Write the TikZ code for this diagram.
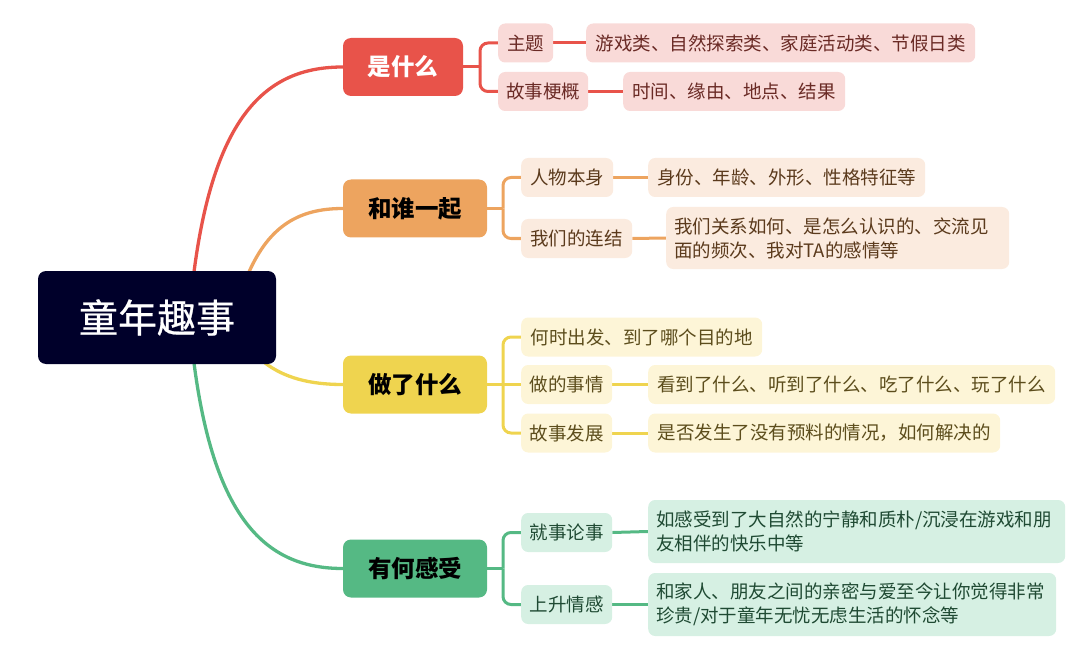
\documentclass[tikz,border=0pt]{standalone}
\usepackage{fontspec}
\setmainfont{Noto Sans CJK SC}
\newfontfamily\rootfont{Noto Sans CJK SC}[FakeBold=0.6]
\usetikzlibrary{backgrounds}
\definecolor{rootc}{HTML}{00002A}
\definecolor{redc}{HTML}{E8534A}
\definecolor{redl}{HTML}{F9DAD8}
\definecolor{redt}{HTML}{6A2A25}
\definecolor{orac}{HTML}{EDA45F}
\definecolor{oral}{HTML}{FBEBDF}
\definecolor{orat}{HTML}{5B3A1C}
\definecolor{yelc}{HTML}{EFD44F}
\definecolor{yell}{HTML}{FDF5D7}
\definecolor{yelt}{HTML}{5C4D1C}
\definecolor{grnc}{HTML}{55B984}
\definecolor{grnl}{HTML}{D6F0E3}
\definecolor{grnt}{HTML}{1F4A33}
\tikzset{
  rootbox/.style={fill=rootc, rounded corners=8pt, text=white, inner sep=0pt,
    minimum width=238pt, minimum height=93pt, font=\rootfont\fontsize{39}{45}\selectfont},
  topicbox/.style={fill=#1, rounded corners=8pt, inner sep=0pt, minimum height=58pt,
    font=\fontsize{23.5}{28}\selectfont\bfseries},
  subbox/.style={fill=#1, rounded corners=7pt, inner xsep=0pt, inner ysep=0pt,
    minimum height=39pt, anchor=west, font=\fontsize{18.5}{24}\selectfont},
  multibox/.style={subbox=#1, inner xsep=8pt},
  wire/.style={draw=#1, line width=3pt},
  bend/.style={draw=#1, line width=3pt, rounded corners=8pt},
  curvewire/.style={draw=#1, line width=3.3pt}
}
\begin{document}
\begin{tikzpicture}[x=1pt,y=-1pt]
\useasboundingbox (0,0) rectangle (1080,650);
% root and topics
\node[rootbox] (root) at (157,317.5) {童年趣事};
\node[topicbox=redc, text=white, minimum width=120pt] (t1) at (403,67) {是什么};
\node[topicbox=orac, text=black, minimum width=144pt] (t2) at (415,208.5) {和谁一起};
\node[topicbox=yelc, text=black, minimum width=144pt] (t3) at (415,384.5) {做了什么};
\node[topicbox=grnc, text=black, minimum width=144pt] (t4) at (415,568.5) {有何感受};
% group 1
\node[subbox=redl, text=redt, minimum width=55pt] (a1) at (498,43) {主题};
\node[subbox=redl, text=redt, minimum width=389pt] (a1d) at (586,43) {游戏类、自然探索类、家庭活动类、节假日类};
\node[subbox=redl, text=redt, minimum width=90pt] (a2) at (498,91.5) {故事梗概};
\node[subbox=redl, text=redt, minimum width=222pt] (a2d) at (623,91.5) {时间、缘由、地点、结果};
% group 2
\node[subbox=oral, text=orat, minimum width=92pt] (b1) at (521,177.5) {人物本身};
\node[subbox=oral, text=orat, minimum width=277pt] (b1d) at (648,177.5) {身份、年龄、外形、性格特征等};
\node[subbox=oral, text=orat, minimum width=111pt] (b2) at (521,238.5) {我们的连结};
\node[multibox=oral, text=orat, minimum height=62pt, text width=327pt, align=left] (b2d) at (666,238)
  {我们关系如何、是怎么认识的、交流见\\面的频次、我对TA的感情等};
% group 3
\node[subbox=yell, text=yelt, minimum width=241pt] (c1) at (521,337) {何时出发、到了哪个目的地};
\node[subbox=yell, text=yelt, minimum width=91pt] (c2) at (521,384.5) {做的事情};
\node[subbox=yell, text=yelt, minimum width=407pt] (c2d) at (648,384.5) {看到了什么、听到了什么、吃了什么、玩了什么};
\node[subbox=yell, text=yelt, minimum width=91pt] (c3) at (521,433) {故事发展};
\node[subbox=yell, text=yelt, minimum width=352pt] (c3d) at (648,433) {是否发生了没有预料的情况，如何解决的};
% group 4
\node[subbox=grnl, text=grnt, minimum width=91pt] (d1) at (521,532.5) {就事论事};
\node[multibox=grnl, text=grnt, minimum height=63pt, text width=401pt, align=left] (d1d) at (648,531.5)
  {如感受到了大自然的宁静和质朴/沉浸在游戏和朋\\友相伴的快乐中等};
\node[subbox=grnl, text=grnt, minimum width=91pt] (d2) at (521,604.5) {上升情感};
\node[multibox=grnl, text=grnt, minimum height=63pt, text width=392pt, align=left] (d2d) at (648,604.5)
  {和家人、朋友之间的亲密与爱至今让你觉得非常\\珍贵/对于童年无忧无虑生活的怀念等};
% junction points
\coordinate (j1) at (480,67);
\coordinate (j2) at (503,208.5);
\coordinate (j3) at (503,384.5);
\coordinate (j4) at (503,568.5);
\coordinate (r1) at (194,272);
\coordinate (r2) at (249,272);
\coordinate (r3) at (265,363);
\coordinate (r4) at (194,363);
\begin{scope}[on background layer]
\draw[curvewire=redc] (r1) .. controls (215,110) and (270,67) .. (t1.west);
\draw[curvewire=orac] (r2) .. controls (270,225) and (300,208.5) .. (t2.west);
\draw[curvewire=yelc] (r3) .. controls (285,378) and (310,384.5) .. (t3.west);
\draw[curvewire=grnc] (r4) .. controls (215,525) and (270,568.5) .. (t4.west);
% group 1
\draw[wire=redc] (t1.east) -- (j1);
\draw[bend=redc] (j1) |- (a1.west);
\draw[bend=redc] (j1) |- (a2.west);
\draw[wire=redc] (a1.east) -- (a1d.west);
\draw[wire=redc] (a2.east) -- (a2d.west);
% group 2
\draw[wire=orac] (t2.east) -- (j2);
\draw[bend=orac] (j2) |- (b1.west);
\draw[bend=orac] (j2) |- (b2.west);
\draw[wire=orac] (b1.east) -- (b1d.west);
\draw[wire=orac] (b2.east) -- (b2d.west);
% group 3
\draw[wire=yelc] (t3.east) -- (j3);
\draw[bend=yelc] (j3) |- (c1.west);
\draw[wire=yelc] (j3) -- (c2.west);
\draw[bend=yelc] (j3) |- (c3.west);
\draw[wire=yelc] (c2.east) -- (c2d.west);
\draw[wire=yelc] (c3.east) -- (c3d.west);
% group 4
\draw[wire=grnc] (t4.east) -- (j4);
\draw[bend=grnc] (j4) |- (d1.west);
\draw[bend=grnc] (j4) |- (d2.west);
\draw[wire=grnc] (d1.east) -- (d1d.west);
\draw[wire=grnc] (d2.east) -- (d2d.west);
\end{scope}
\end{tikzpicture}
\end{document}
